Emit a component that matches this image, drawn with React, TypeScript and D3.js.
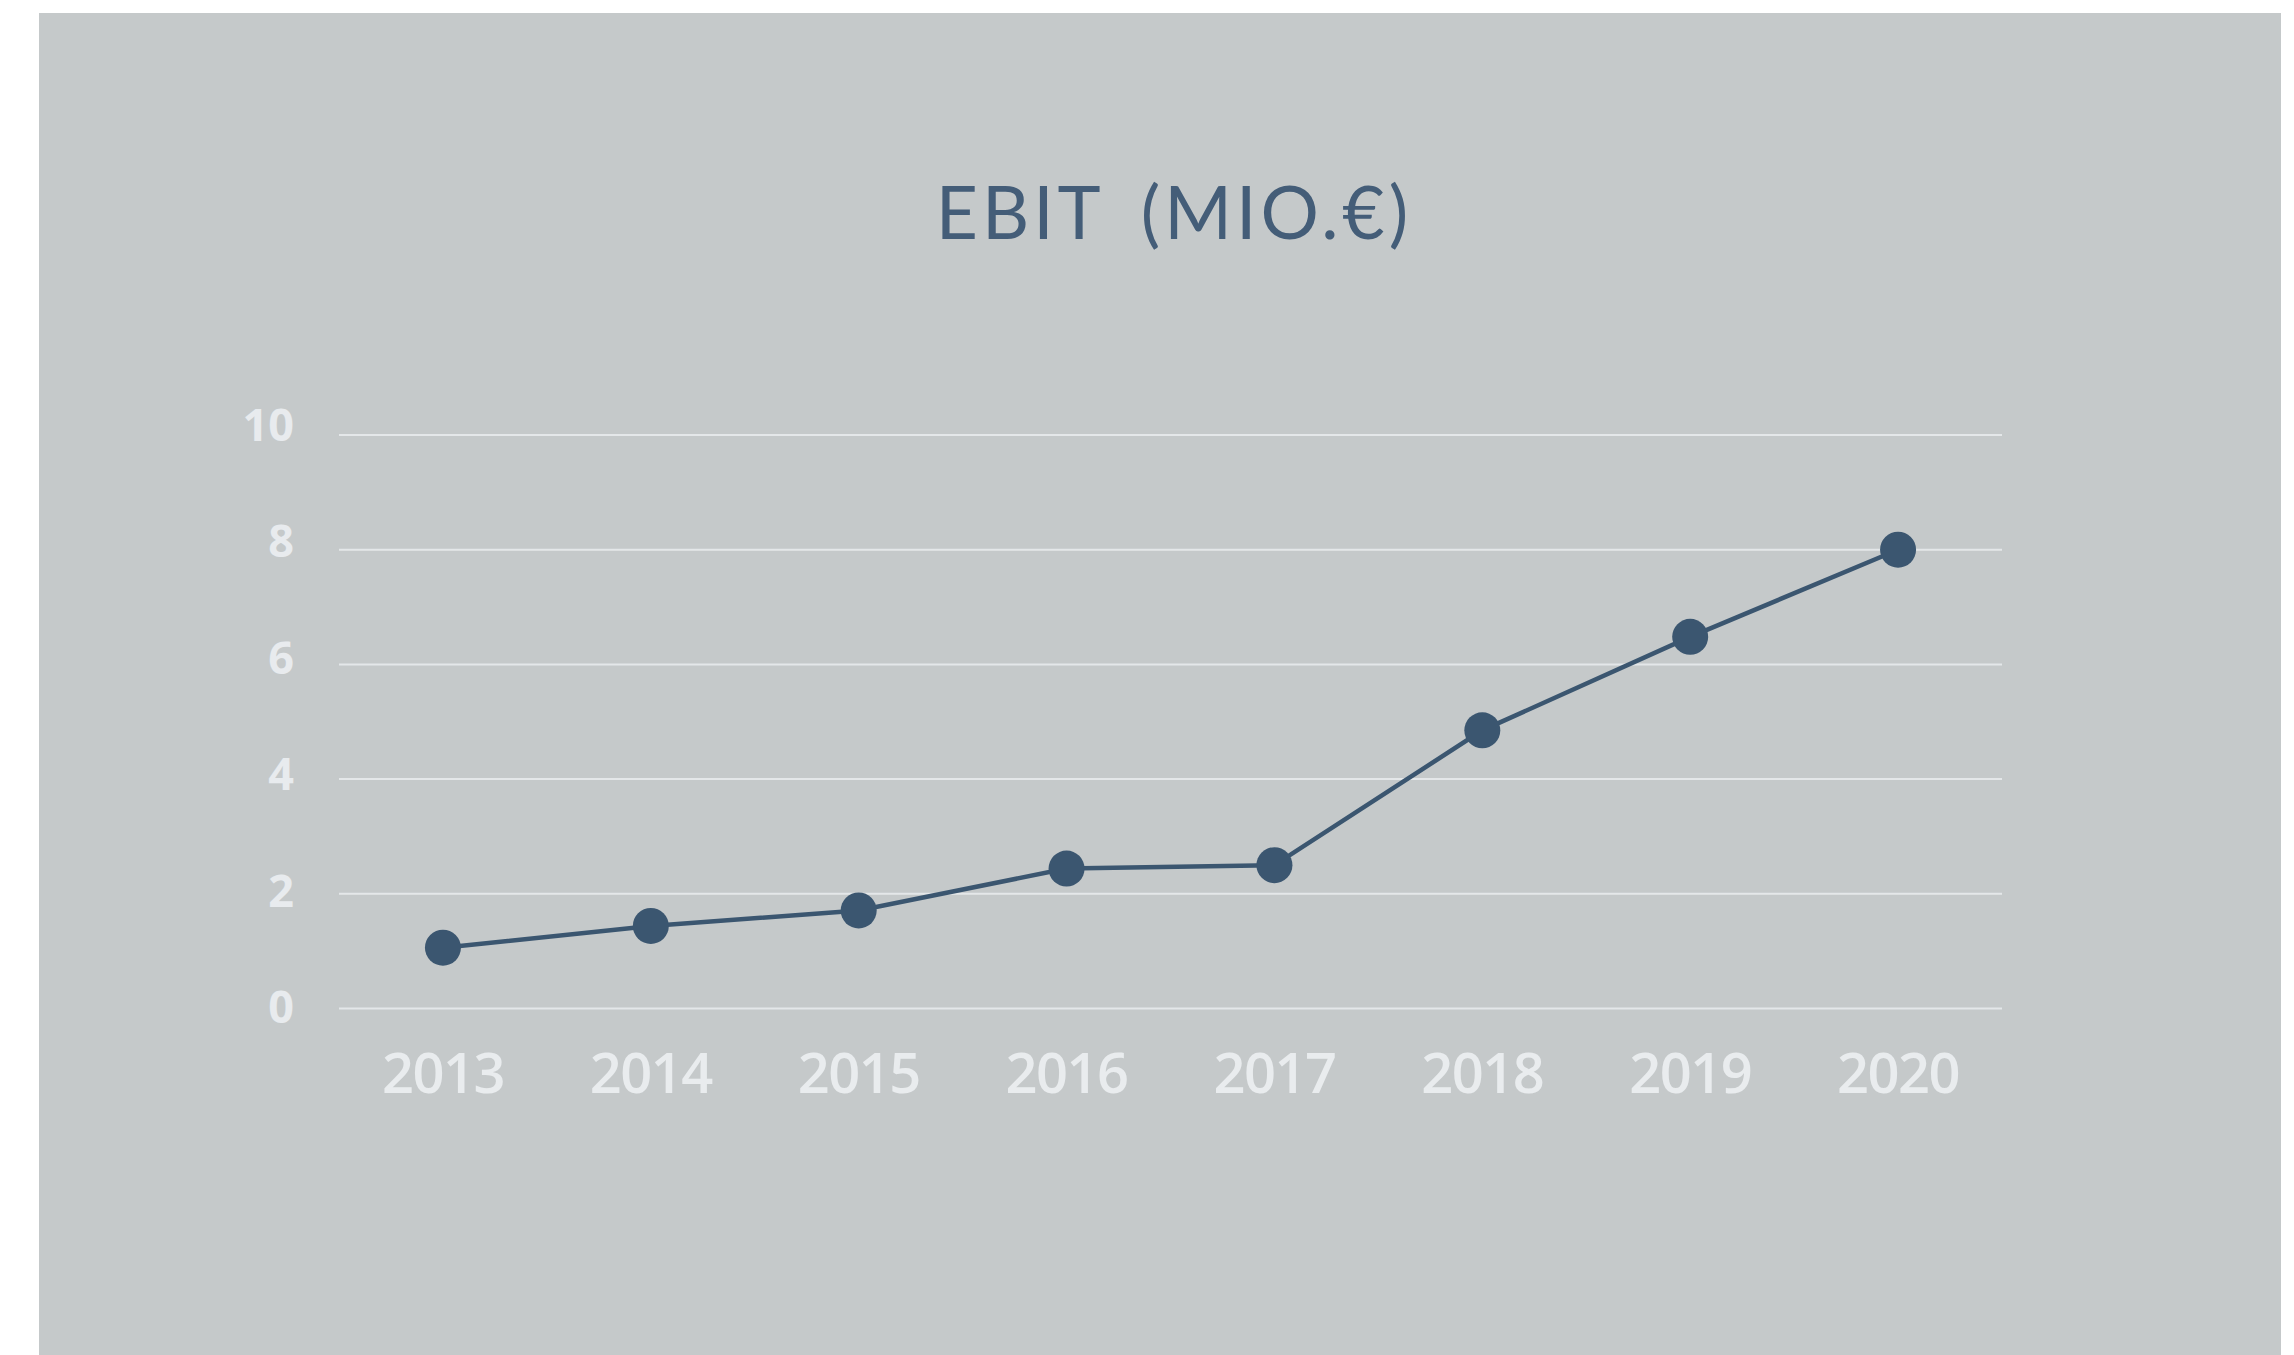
import React from "react";
import * as d3 from "d3";

const years = ["2013", "2014", "2015", "2016", "2017", "2018", "2019", "2020"];
const ebit = [1.06, 1.44, 1.71, 2.44, 2.5, 4.85, 6.48, 8.0];
const yTicks = [0, 2, 4, 6, 8, 10];
const titleMain = "EBIT";
const titleUnit = "(MIO.€)";

const W = 2294;
const H = 1355;

export default function App() {
  const x = d3.scalePoint<string>().domain(years).range([339, 2002]).padding(0.5);
  const y = d3.scaleLinear().domain([0, 10]).range([1008.5, 435]);
  // tick labels in the original are spread slightly wider than the gridlines
  const yLabel = d3.scaleLinear().domain([0, 10]).range([1007, 424.5]);
  const line = d3
    .line<number>()
    .x((_, i) => x(years[i]) as number)
    .y((d) => y(d));

  return (
    <svg
      width={W}
      height={H}
      style={{ position: "fixed", left: 0, top: 0, display: "block" }}
    >
      <rect x={0} y={0} width={W} height={H} fill="#ffffff" />
      <rect x={39} y={13} width={2242} height={H - 13} fill="#c5c9ca" />
      <text
        x={1174}
        y={239}
        textAnchor="middle"
        fill="#445d78"
        fontFamily="Lato, 'Open Sans', sans-serif"
        fontWeight={400}
        fontSize={73}
        letterSpacing={4}
      >
        <tspan>{titleMain}</tspan>
        <tspan dx={36}>{titleUnit}</tspan>
      </text>
      {yTicks.map((t) => (
        <g key={t}>
          <line
            x1={339}
            x2={2002}
            y1={y(t)}
            y2={y(t)}
            stroke="#e4e7e9"
            strokeWidth={2}
          />
          <text
            x={294}
            y={yLabel(t)}
            dy="0.36em"
            textAnchor="end"
            fill="#e8ebee"
            fontFamily="'Open Sans', sans-serif"
            fontWeight={700}
            fontSize={45}
          >
            {t}
          </text>
        </g>
      ))}
      {years.map((yr) => (
        <text
          key={yr}
          x={x(yr) as number}
          y={1093}
          textAnchor="middle"
          fill="#e9ecee"
          fontFamily="'Open Sans', sans-serif"
          fontWeight={600}
          fontSize={56}
          letterSpacing={-1.5}
        >
          {yr}
        </text>
      ))}
      <path d={line(ebit) || ""} fill="none" stroke="#3b5670" strokeWidth={4.5} />
      {ebit.map((v, i) => (
        <circle key={i} cx={x(years[i]) as number} cy={y(v)} r={18} fill="#3b5670" />
      ))}
    </svg>
  );
}
